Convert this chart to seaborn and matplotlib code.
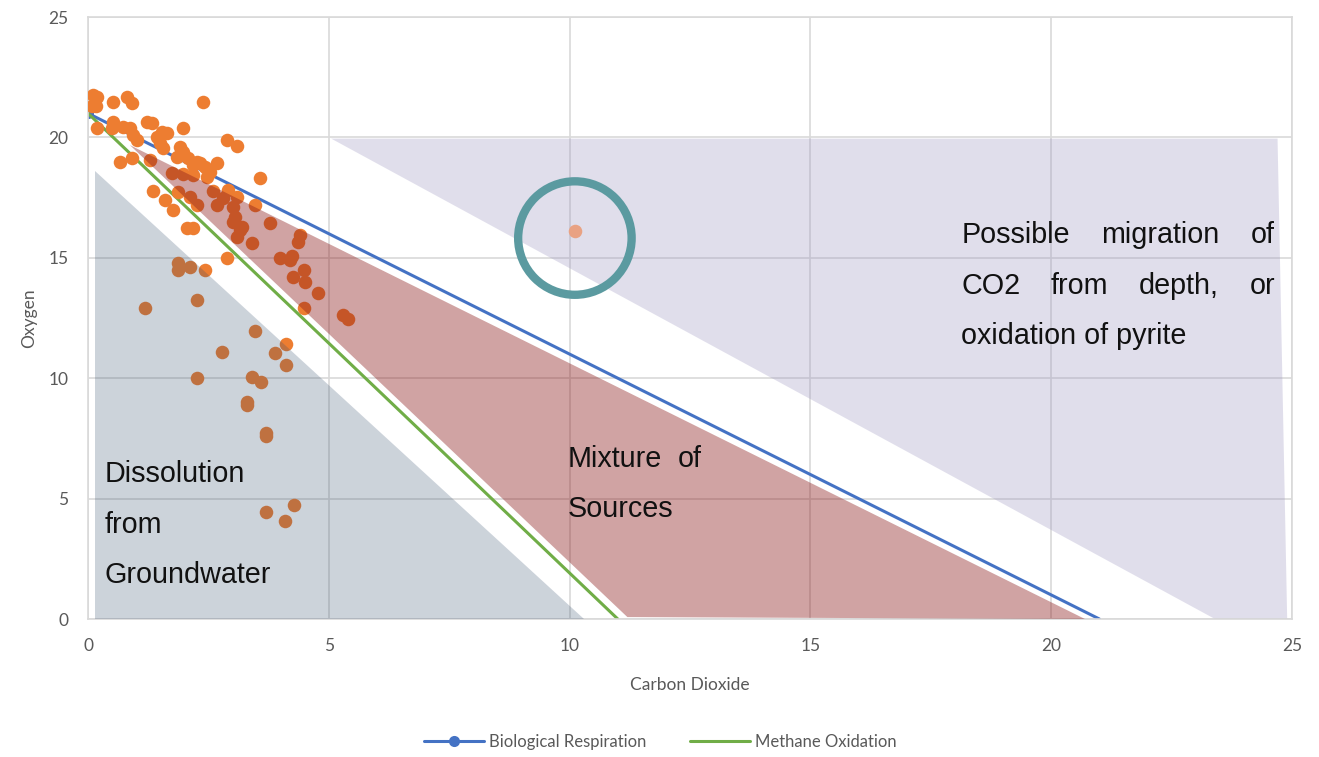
import matplotlib
matplotlib.use("Agg")
import matplotlib.pyplot as plt
from matplotlib.patches import Polygon
from matplotlib.lines import Line2D
import seaborn as sns
import pandas as pd

# Soil-gas survey: CO2 vs O2 (%)
co2 = [0.10, 0.19, 0.08, 0.17, 0.52, 0.81, 0.91, 2.39, 0.19, 0.52,
       0.50, 0.73, 0.87, 0.93, 1.02, 1.23, 1.33, 1.54, 1.43, 1.64,
       1.50, 1.56, 1.97, 1.91, 1.97, 1.85, 2.08, 2.26, 2.18, 2.43,
       2.68, 2.89, 3.09, 0.66, 0.91, 1.35, 1.60, 1.76, 1.29, 1.74,
       1.97, 2.18, 2.33, 2.53, 2.47, 3.57, 1.87, 2.12, 2.26, 2.60,
       2.91, 2.80, 3.09, 2.68, 3.01, 3.47, 3.05, 3.01, 3.20, 3.78,
       2.06, 2.18, 3.16, 3.09, 3.41, 4.40, 4.36, 2.89, 3.99, 4.19,
       4.24, 4.49, 4.26, 4.51, 4.78, 1.87, 1.87, 2.12, 2.43, 1.18,
       2.26, 4.49, 5.29, 5.40, 3.47, 2.78, 3.88, 4.11, 4.11, 2.26,
       3.41, 3.59, 3.30, 3.30, 3.70, 3.70, 3.70, 4.28, 4.09]
o2 = [21.76, 21.68, 21.30, 21.30, 21.47, 21.68, 21.43, 21.47, 20.39, 20.64,
      20.39, 20.43, 20.39, 20.10, 19.89, 20.64, 20.60, 20.22, 20.02, 20.18,
      19.77, 19.56, 20.39, 19.60, 19.39, 19.19, 19.14, 18.98, 18.85, 18.77,
      18.94, 19.89, 19.64, 18.98, 19.14, 17.77, 17.40, 16.99, 19.06, 18.52,
      18.48, 18.44, 18.94, 18.56, 18.36, 18.31, 17.73, 17.52, 17.19, 17.77,
      17.82, 17.48, 17.52, 17.19, 17.11, 17.19, 16.69, 16.49, 16.28, 16.45,
      16.24, 16.24, 16.15, 15.86, 15.61, 15.95, 15.66, 14.99, 14.99, 14.91,
      15.07, 14.49, 14.20, 14.00, 13.54, 14.78, 14.49, 14.62, 14.49, 12.92,
      13.25, 12.92, 12.62, 12.46, 11.96, 11.09, 11.05, 11.42, 10.55, 10.01,
      10.05, 9.84, 9.01, 8.89, 7.72, 7.60, 4.44, 4.73, 4.07]

# highlighted sample
outlier_co2 = [10.11]
outlier_o2 = [16.11]

# reference trends
resp_co2 = [0, 21]
resp_o2 = [21, 0]
meth_co2 = [0, 11]
meth_o2 = [21, 0]

# interpretation zones
zone_groundwater = [(0.15, 18.6), (0.15, 0.0), (10.3, 0.0)]
zone_mixture = [(0.87, 19.68), (20.7, 0.0), (11.2, 0.08)]
zone_deep = [(5.05, 19.95), (24.7, 19.95), (24.9, 0.0), (23.4, 0.0)]

ticks = [0, 5, 10, 15, 20, 25]

sns.set_style("whitegrid")
plt.rcParams["font.family"] = ["Lato", "DejaVu Sans"]

fig = plt.figure(figsize=(13.19, 7.57), dpi=100)
ax = fig.add_axes([88 / 1319, 138 / 757, 1204 / 1319, 602 / 757])
ax.set_xlim(0, 25)
ax.set_ylim(0, 25)
ax.set_xticks(ticks)
ax.set_yticks(ticks)
ax.grid(True, color="#d9d9d9", linewidth=1.2)
ax.set_axisbelow(True)
for s in ax.spines.values():
    s.set_color("#d9d9d9")
    s.set_linewidth(1.2)
ax.tick_params(axis="both", length=0, colors="#595959", labelsize=12.5)
ax.tick_params(axis="x", pad=14)
ax.tick_params(axis="y", pad=14)

# zone backdrop
ax.add_patch(Polygon(zone_deep, closed=True, facecolor="#9b94c0", alpha=0.30,
                     edgecolor="none", zorder=1))

# trend lines
sns.lineplot(x=resp_co2, y=resp_o2, ax=ax, color="#4472c4", linewidth=2.2,
             marker="o", markersize=8, markeredgewidth=0, markevery=[0],
             zorder=2, legend=False)
sns.lineplot(x=meth_co2, y=meth_o2, ax=ax, color="#70ad47", linewidth=2.2,
             zorder=2, legend=False)

# samples
df = pd.DataFrame({"co2": co2, "o2": o2})
sns.scatterplot(data=df, x="co2", y="o2", ax=ax, color="#ed7d31", s=95,
                linewidth=0, zorder=3, legend=False)
sns.scatterplot(x=outlier_co2, y=outlier_o2, ax=ax, color="#e9a283", s=95,
                linewidth=0, zorder=3, legend=False)

# ring around the highlighted sample
ax.scatter(outlier_co2, [15.82], s=81.7 ** 2, facecolors="none",
           edgecolors="#5b9aa0", linewidths=6.0, zorder=5)

# translucent zones over the samples
ax.add_patch(Polygon(zone_groundwater, closed=True, facecolor="#37506f",
                     alpha=0.25, edgecolor="none", zorder=4))
ax.add_patch(Polygon(zone_mixture, closed=True, facecolor="#8a1919",
                     alpha=0.40, edgecolor="none", zorder=4))

ax.set_xlabel("Carbon Dioxide", color="#595959", fontsize=12.5, labelpad=16)
ax.set_ylabel("Oxygen", color="#595959", fontsize=12.5, labelpad=8)

# zone labels
txt_kw = dict(fontsize=20.7, family=["Liberation Sans", "DejaVu Sans"],
              color="#111111", va="center_baseline", zorder=6)


def justified(words, x0, x1, y):
    fig.canvas.draw()
    r = fig.canvas.get_renderer()
    items = [ax.text(x0, y, w, ha="left", **txt_kw) for w in words]
    widths = [t.get_window_extent(r).width for t in items]
    d0 = ax.transData.transform((x0, y))[0]
    d1 = ax.transData.transform((x1, y))[0]
    gap = (d1 - d0 - sum(widths)) / max(len(words) - 1, 1)
    pos = d0
    inv = ax.transData.inverted()
    for t, w in zip(items, widths):
        t.set_x(inv.transform((pos, 0))[0])
        pos += w + gap


for line, yy in zip(["Dissolution", "from", "Groundwater"], [6.15, 4.03, 1.95]):
    ax.text(0.35, yy, line, ha="left", **txt_kw)

justified(["Mixture", "of"], 9.95, 12.75, 6.77)
ax.text(9.95, 4.69, "Sources", ha="left", **txt_kw)

justified(["Possible", "migration", "of"], 18.13, 24.65, 16.07)
justified(["CO2", "from", "depth,", "or"], 18.13, 24.65, 13.95)
ax.text(18.13, 11.88, "oxidation of pyrite", ha="left", **txt_kw)

handles = [
    Line2D([], [], color="#4472c4", linewidth=2.2, marker="o", markersize=8,
           markeredgewidth=0),
    Line2D([], [], color="#70ad47", linewidth=2.2),
]
fig.legend(handles, ["Biological Respiration", "Methane Oxidation"],
           loc="center", bbox_to_anchor=(660 / 1319, 15 / 757), ncol=2,
           frameon=False, fontsize=12, labelcolor="#595959",
           handlelength=3.6, handletextpad=0.3, columnspacing=2.6)

fig.savefig("out.png", dpi=100)
